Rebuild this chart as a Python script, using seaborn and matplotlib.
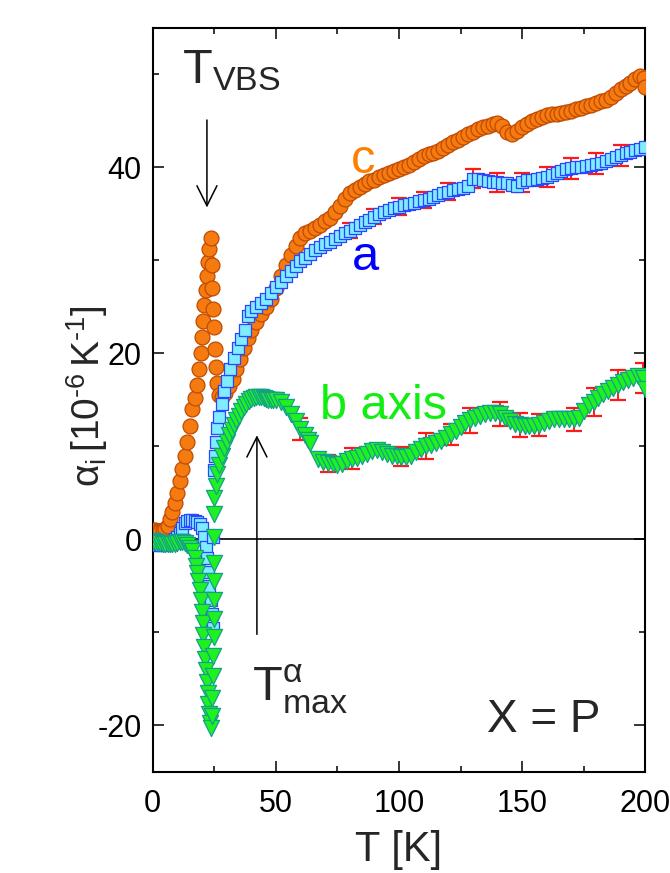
import numpy as np
import matplotlib
matplotlib.use('Agg')
import matplotlib.pyplot as plt
import seaborn as sns
from matplotlib.ticker import MultipleLocator
from matplotlib.patches import ArrowStyle

# c axis (orange circles)
c_T = [0, 1, 2, 3, 4, 5, 6, 7, 8, 9, 10, 11, 12, 13, 14, 15, 16,
       17, 18, 18.8, 19.4, 20.0, 20.5, 21.0, 21.5, 22.0, 22.5, 23.0, 23.5,
       24.0, 24.0, 24.3, 24.8, 25.2, 25.6, 26.0, 26.8, 28, 29.5, 31, 32.5,
       34, 35.5, 37, 38.5, 40, 42, 44, 46, 48, 50, 52, 54, 56, 58, 60, 62,
       64, 66, 68, 70, 72, 74, 76, 78, 80, 82, 84, 86, 88, 90, 92, 94, 96,
       98, 100, 102, 104, 106, 108, 110, 112, 114, 116, 118, 120, 122, 124,
       126, 128, 130, 132, 134, 136, 138, 140, 142, 144, 146, 148, 150, 152,
       154, 156, 158, 160, 162, 164, 166, 168, 170, 172, 174, 176, 178, 180,
       182, 184, 186, 188, 190, 192, 194, 196, 198, 199.5, 200]
c_y = [1.0, 1.0, 0.9, 0.9, 1.0, 1.1, 1.5, 2.2, 3.0, 3.9, 5.0, 6.3, 7.6, 9.0, 10.5, 12.2, 14.0,
       15.2, 16.6, 18.3, 20.0, 21.8, 23.5, 25.2, 26.8, 28.3, 29.8, 31.2, 32.4,
       29.5, 27.0, 24.8, 22.8, 20.5, 18.5, 16.8, 15.5, 15.3, 15.8, 16.5, 17.3,
       18.3, 19.4, 20.6, 21.7, 22.5, 23.4, 24.2, 25.0, 25.9, 27.0, 28.3, 29.5, 30.6, 31.6, 32.4, 32.9,
       33.2, 33.5, 33.8, 34.2, 34.6, 35.2, 35.9, 36.6, 37.2, 37.6, 37.9, 38.2, 38.5, 38.7, 39.0, 39.2, 39.4,
       39.6, 39.8, 40.0, 40.3, 40.6, 40.9, 41.2, 41.4, 41.6, 41.8, 42.1, 42.4, 42.7, 43.0,
       43.3, 43.6, 43.8, 44.1, 44.3, 44.5, 44.7, 44.8, 44.5, 43.8, 43.6, 43.9, 44.3, 44.7,
       45.0, 45.2, 45.4, 45.6, 45.7, 45.8, 45.9, 46.0, 46.1, 46.3, 46.4, 46.6, 46.7, 46.9,
       47.1, 47.3, 47.6, 48.0, 48.4, 48.8, 49.1, 49.5, 49.8, 49.6, 48.7]

# a axis (cyan squares)
a_T = [0, 1, 2, 3, 4, 5, 6, 7, 8, 9, 10, 11, 12, 13, 14, 15, 16, 17, 18, 19, 20,
       21, 21.5, 22, 22.5, 23, 23.5, 24, 24.3, 24.5, 25.0, 25.2, 25.5, 26, 27, 28,
       29, 30, 31.5, 33, 34.5, 36, 37.5, 38.5, 40, 42, 44, 46, 48, 50, 52, 54, 56,
       58, 60, 62, 64, 66, 68, 70, 72, 74, 76, 78, 80, 82, 84, 86, 88, 90, 92, 94,
       96, 98, 100, 102, 104, 106, 108, 110, 112, 114, 116, 118, 120, 122, 124,
       126, 128, 130, 132, 134, 136, 138, 140, 142, 144, 146, 148, 150, 152, 154,
       156, 158, 160, 162, 164, 166, 168, 170, 172, 174, 176, 178, 180, 182, 184,
       186, 188, 190, 192, 194, 196, 198, 200]
a_y = [-0.3, -0.5, -0.6, -0.6, -0.6, -0.5, -0.5, -0.4, -0.2, 0.0, 0.3, 0.7, 1.2, 1.8, 2.0, 2.1, 2.1, 2.0, 1.9, 1.7, 1.2,
       0.3, -0.8, -2.0, -3.5, -5.0, -6.5, -8.0, -9.5, 0.3, 7.5, 9.0, 10.5, 12.0, 13.2, 14.6,
       16.0, 17.0, 18.3, 19.5, 20.6, 21.6, 22.5, 24.0, 24.6, 25.0, 25.4, 25.9, 26.5, 27.1, 27.7, 28.3, 28.9,
       29.4, 29.9, 30.3, 30.7, 31.1, 31.5, 31.8, 32.0, 32.3, 32.6, 32.9, 33.2, 33.5, 33.8, 34.1, 34.4, 34.7, 35.0, 35.2,
       35.4, 35.6, 35.8, 36.0, 36.1, 36.2, 36.4, 36.5, 36.6, 36.8, 37.0, 37.2, 37.4, 37.6, 37.7,
       37.8, 38.0, 38.8, 38.8, 38.6, 38.5, 38.4, 38.4, 38.3, 38.3, 38.1, 38.0, 38.4, 38.6, 38.7,
       38.8, 38.9, 39.0, 39.2, 39.4, 39.6, 39.8, 39.9, 40.0, 40.1, 40.2, 40.3, 40.4, 40.5, 40.7,
       40.9, 41.1, 41.3, 41.5, 41.7, 41.9, 42.0, 42.2]

# b axis (green triangles)
b_T = [0, 1, 2, 3, 4, 5, 6, 7, 8, 9, 10, 11, 12, 13, 14, 15, 16, 17, 17.5, 18, 18.5,
       19, 19.5, 20, 20.3, 20.6, 21, 21.3, 21.6, 22, 22.3, 22.6, 23, 23.3, 23.6,
       24.0, 24.2, 24.4, 24.6, 24.8, 25.0, 25.0, 25.0, 25.0, 24.8, 25.0, 25.0, 25.5,
       26.2, 27, 28, 29, 30, 31, 32, 33, 34, 35, 36, 37, 38, 39, 40, 41, 42, 43, 44,
       45, 46, 47, 48, 49, 50, 52, 54, 56, 58, 60, 62, 63, 64,
       67, 69, 71, 73, 75, 77, 79, 81, 83, 85, 87, 89, 91, 93, 95, 97, 99, 101, 103,
       105, 107, 109, 111, 113, 115, 117, 119, 121, 123, 125, 127, 129, 131, 133,
       135, 137, 139, 141, 143, 145, 147, 149, 151, 153, 155, 157, 159, 161, 163,
       165, 167, 169, 171, 173, 175, 177, 179, 181, 183, 185, 187, 189, 191, 193,
       195, 197, 199, 200]
b_y = [-0.2, -0.3, -0.4, -0.4, -0.5, -0.5, -0.5, -0.5, -0.5, -0.5, -0.4, -0.3, -0.3, -0.4, -0.6, -0.9, -1.2, -2.0, -2.8, -3.6, -4.5,
       -5.4, -6.5, -7.8, -9.0, -10.3, -11.6, -12.8, -14.0, -15.3, -16.5, -17.7, -18.8, -19.7, -20.3,
       -19.0, -17.0, -14.7, -12.5, -10.5, -8.5, -6.5, -4.5, -2.5, 0.3, 2.7, 4.5, 5.8,
       7.0, 8.0, 9.0, 9.8, 10.5, 11.2, 11.8, 12.3, 12.8, 13.3, 13.8, 14.2, 14.6, 14.9, 15.1, 15.2, 15.3, 15.3, 15.3,
       15.2, 15.1, 15.0, 15.0, 15.0, 15.0, 14.8, 14.2, 13.5, 12.7, 11.9, 11.2, 10.7, 10.4,
       8.6, 8.3, 8.2, 8.1, 8.0, 8.1, 8.4, 8.7, 8.8, 9.0, 9.2, 9.5, 9.6, 9.4, 9.2, 9.0, 9.0, 8.9, 8.9,
       9.0, 9.4, 9.7, 10.0, 10.2, 10.4, 10.6, 10.9, 11.3, 11.7, 12.1, 12.5, 12.8, 13.1, 13.3,
       13.5, 13.6, 13.6, 13.5, 13.1, 12.7, 12.4, 12.3, 12.2, 12.2, 12.2, 12.3, 12.5, 12.7, 12.9,
       12.9, 12.9, 12.9, 12.9, 13.1, 13.8, 14.5, 14.8, 15.2, 15.6, 16.0, 16.3, 16.6, 16.9, 17.2,
       17.4, 17.6, 17.4, 16.2]

# error bars (at a subset of the measured temperatures)
a_err_T = [80, 90, 100, 110, 120, 130, 140, 150, 160, 170, 180, 190]
a_err = [0.8, 0.8, 0.9, 0.9, 0.95, 1.0, 1.0, 1.0, 1.05, 1.1, 1.1, 1.1]
b_err_T = [60, 71, 81, 101, 111, 121, 129, 141, 149, 157, 171, 179, 189, 199]
b_err = [1.2, 0.9, 1.1, 1.0, 1.4, 1.1, 1.3, 1.3, 1.3, 1.2, 1.2, 1.5, 1.6, 1.6]

sns.set_style('ticks')
plt.rcParams['font.family'] = ['Liberation Sans', 'DejaVu Sans']
plt.rcParams['mathtext.fontset'] = 'custom'
plt.rcParams['mathtext.rm'] = 'Liberation Sans'
plt.rcParams['mathtext.it'] = 'Liberation Sans'
plt.rcParams['axes.unicode_minus'] = False

fig = plt.figure(figsize=(6.7, 8.73), dpi=100)
ax = fig.add_axes([0.228, 0.1157, 0.735, 0.8523])

ax.axhline(0, color='black', lw=1.2, zorder=1)

# error bars behind the markers
aT = np.array(a_T); ay = np.array(a_y)
m = np.isin(aT, a_err_T)
ax.errorbar(aT[m], ay[m], yerr=a_err, fmt='none', ecolor='#ff1a1a',
            elinewidth=1.4, capsize=5.5, capthick=1.6, zorder=2)
bT = np.array(b_T); by = np.array(b_y)
m = np.isin(bT, b_err_T)
ax.errorbar(bT[m], by[m], yerr=b_err, fmt='none', ecolor='#ff1a1a',
            elinewidth=1.4, capsize=5.5, capthick=1.6, zorder=2)

sns.scatterplot(x=c_T, y=c_y, marker='o', s=115, color='#f57a10',
                edgecolor='#c04a00', linewidth=0.9, ax=ax, zorder=3)
sns.scatterplot(x=a_T, y=a_y, marker='s', s=78, color='#80ecff',
                edgecolor='#2a46ff', linewidth=0.9, ax=ax, zorder=4)
sns.scatterplot(x=b_T, y=b_y, marker='v', s=135, color='#1ff01f',
                edgecolor='#13a08a', linewidth=0.9, ax=ax, zorder=5)

ax.set_xlim(0, 200)
ax.set_ylim(-25, 55)
ax.xaxis.set_major_locator(MultipleLocator(50))
ax.xaxis.set_minor_locator(MultipleLocator(25))
ax.yaxis.set_major_locator(MultipleLocator(20))
ax.yaxis.set_minor_locator(MultipleLocator(10))
ax.tick_params(which='both', direction='in', top=True, right=True, width=1.1, colors='black')
ax.tick_params(which='major', length=8, labelsize=22)
ax.tick_params(axis='x', which='major', pad=12)
ax.tick_params(axis='y', which='major', pad=8)
ax.tick_params(which='minor', length=4)
for sp in ax.spines.values():
    sp.set_linewidth(1.5)
    sp.set_color('black')

ax.set_xlabel('T [K]', fontsize=30, labelpad=8)
ax.set_ylabel(r'$\mathregular{α_i\,[10^{‐6}\,K^{‐1}]}$', fontsize=28)
ax.yaxis.set_label_coords(-0.087, 0.505)

# labels and annotations
ax.text(11.8, 49.1, r'$\mathregular{T_{VBS}}$', fontsize=35, ha='left', va='baseline')
ax.text(85.4, 39.4, 'c', fontsize=35, color='#ff8000', ha='center', va='baseline')
ax.text(86.2, 29.0, 'a', fontsize=35, color='#0000ff', ha='center', va='baseline')
ax.text(67.9, 12.9, 'b axis', fontsize=35, color='#11ee11', ha='left', va='baseline')
ax.text(40.2, -17.4, r'$\mathregular{T^{α}_{max}}$', fontsize=35, ha='left', va='baseline')
ax.text(135.8, -20.7, 'X = P', fontsize=33, ha='left', va='baseline')

arrow = ArrowStyle('->', head_length=1.2, head_width=0.6)
ax.annotate('', xy=(22.0, 35.4), xytext=(22.0, 45.4),
            arrowprops=dict(arrowstyle=arrow, mutation_scale=12, lw=1.1, color='black'))
ax.annotate('', xy=(42.3, 11.5), xytext=(42.3, -10.5),
            arrowprops=dict(arrowstyle=arrow, mutation_scale=12, lw=1.1, color='black'))

fig.savefig('out.png', dpi=100)
